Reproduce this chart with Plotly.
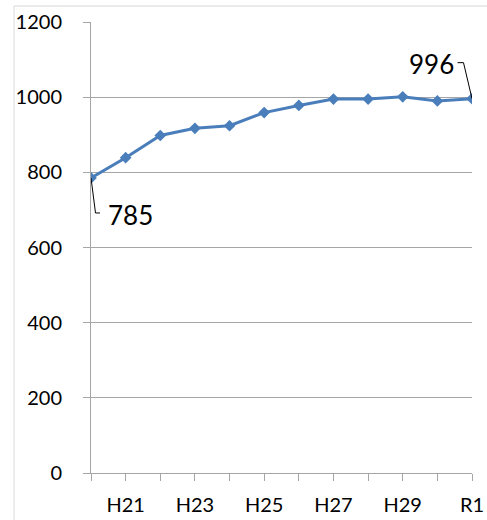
import plotly.graph_objects as go

categories = ["H20", "H21", "H22", "H23", "H24", "H25", "H26", "H27", "H28", "H29", "H30", "R1"]
values = [785, 839, 898, 917, 924, 959, 978, 995, 995, 1001, 990, 996]
tick_labels = ["", "H21", "", "H23", "", "H25", "", "H27", "", "H29", "", "R1"]
y_ticks = [0, 200, 400, 600, 800, 1000, 1200]

FONT = "Lato"
GRID = "#a6a6a6"
BLUE = "#4a7ebb"

fig = go.Figure()
fig.add_trace(go.Scatter(
    x=categories, y=values, mode="lines+markers",
    line=dict(color=BLUE, width=3),
    marker=dict(symbol="diamond", size=9, color=BLUE),
    showlegend=False, hoverinfo="skip",
))

# data labels with leader lines (pixel offsets from the data points)
first_i, last_i = 0, len(categories) - 1
fig.add_annotation(x=first_i, y=values[first_i], text=str(values[first_i]),
                   xref="x", yref="y", showarrow=False,
                   xshift=39, yshift=-37,
                   font=dict(family=FONT, size=26, color="#000000"))
fig.add_annotation(x=last_i, y=values[last_i], text=str(values[last_i]),
                   xref="x", yref="y", showarrow=False,
                   xshift=-41, yshift=35,
                   font=dict(family=FONT, size=26, color="#000000"))
fig.add_shape(type="path", xref="x", yref="y", xsizemode="pixel", ysizemode="pixel",
              xanchor=first_i, yanchor=values[first_i],
              path="M0,0 L4.5,-35 L9,-35", line=dict(color="#000000", width=1))
fig.add_shape(type="path", xref="x", yref="y", xsizemode="pixel", ysizemode="pixel",
              xanchor=last_i, yanchor=values[last_i],
              path="M0,0 L-8.5,36 L-14.5,36", line=dict(color="#000000", width=1))

# chart area border (left and top)
fig.add_shape(type="line", xref="paper", yref="paper", x0=-0.202, x1=-0.202, y0=-0.2, y1=1.0355,
              line=dict(color="#d9d9d9", width=1))
fig.add_shape(type="line", xref="paper", yref="paper", x0=-0.202, x1=1.1, y0=1.0355, y1=1.0355,
              line=dict(color="#d9d9d9", width=1))

fig.update_layout(
    template="none",
    width=487, height=520,
    margin=dict(l=91, r=15, t=22, b=47, pad=0),
    paper_bgcolor="white", plot_bgcolor="white",
    font=dict(family=FONT, color="#000000"),
    xaxis=dict(
        type="category", range=[0, len(categories) - 1], automargin=False,
        tickmode="array", tickvals=categories, ticktext=tick_labels,
        ticks="outside", ticklen=7, tickcolor=GRID, tickwidth=1,
        showline=True, linecolor=GRID, linewidth=1,
        showgrid=False, zeroline=False,
        tickfont=dict(family=FONT, size=20, color="#000000"),
        ticklabelstandoff=7,
    ),
    yaxis=dict(
        range=[0, 1200], tickmode="array", tickvals=y_ticks, automargin=False,
        ticks="outside", ticklen=7, tickcolor=GRID, tickwidth=1,
        showline=True, linecolor=GRID, linewidth=1,
        showgrid=True, gridcolor=GRID, gridwidth=1,
        zeroline=False,
        tickfont=dict(family=FONT, size=20, color="#000000"),
        ticklabelstandoff=17,
    ),
)

fig.write_html("out.html", config={"displayModeBar": False},
               post_script="document.body.style.margin='0';document.body.style.overflow='hidden';")
